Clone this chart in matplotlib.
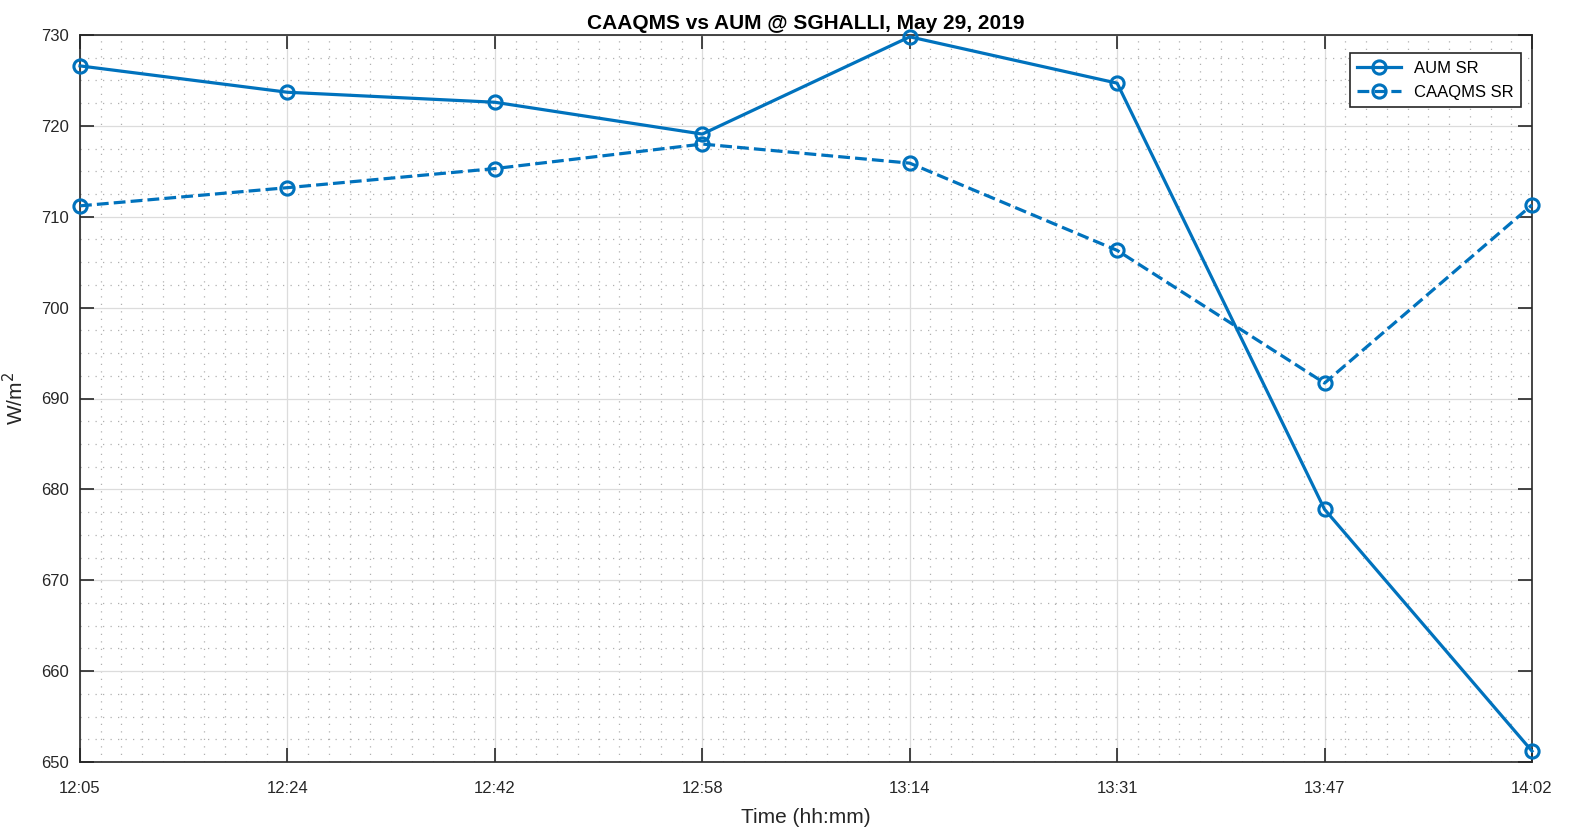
import numpy as np
import matplotlib
matplotlib.use("Agg")
import matplotlib.pyplot as plt
from matplotlib.ticker import MultipleLocator

plt.rcParams['font.family'] = ['Liberation Sans', 'DejaVu Sans']

times = ['12:05', '12:24', '12:42', '12:58', '13:14', '13:31', '13:47', '14:02']
aum_sr = [726.6, 723.7, 722.6, 719.1, 729.8, 724.7, 677.8, 651.2]
caaqms_sr = [711.2, 713.2, 715.3, 718.0, 715.9, 706.3, 691.7, 711.3]

blue = '#0072BD'
x = np.arange(1, len(times) + 1)

fig = plt.figure(figsize=(15.74, 8.31), dpi=100)
ax = fig.add_axes([80 / 1574, 1 - 762 / 831, (1532 - 80) / 1574, (762 - 35) / 831])

ax.plot(x, aum_sr, '-o', color=blue, lw=2.3, ms=9.5, mfc='none', mew=2.2, label='AUM SR',
        clip_on=False, zorder=3)
ax.plot(x, caaqms_sr, '--o', color=blue, lw=2.3, ms=9.5, mfc='none', mew=2.2, label='CAAQMS SR',
        clip_on=False, zorder=3)

ax.set_xlim(1, len(times))
ax.set_ylim(650, 730)
ax.set_xticks(x)
ax.set_xticklabels(times)
ax.xaxis.set_minor_locator(MultipleLocator(0.1))
ax.yaxis.set_major_locator(MultipleLocator(10))
ax.yaxis.set_minor_locator(MultipleLocator(2.5))

ax.grid(which='major', color='#dcdcdc', lw=0.9, ls='-')
ax.grid(which='minor', color='#b0b0b0', lw=0.9, ls=(0, (1, 5)))
ax.set_axisbelow(True)

ax.tick_params(which='major', direction='in', length=10, width=1.2, top=True, right=True,
               labelsize=12, colors='#262626')
ax.tick_params(axis='x', which='major', pad=14)
ax.tick_params(axis='y', which='major', pad=8)
ax.tick_params(which='minor', length=0, top=True, right=True)
for s in ax.spines.values():
    s.set_color('#262626')
    s.set_linewidth(1.2)

ax.set_title('CAAQMS vs AUM @ SGHALLI, May 29, 2019', fontsize=15, fontweight='bold',
             color='#000000', pad=4)
ax.set_xlabel('Time (hh:mm)', fontsize=15, color='#262626', labelpad=8)
ax.set_ylabel('W/m$^2$', fontsize=15, color='#262626', labelpad=10)

leg = ax.legend(loc='upper right', bbox_to_anchor=(0.9924, 0.9752), fontsize=12,
                fancybox=False, framealpha=1, edgecolor='#262626', borderpad=0.45,
                handlelength=2.6, labelspacing=0.55, borderaxespad=0)
leg.get_frame().set_linewidth(1.2)

fig.savefig('out.png', dpi=100)
